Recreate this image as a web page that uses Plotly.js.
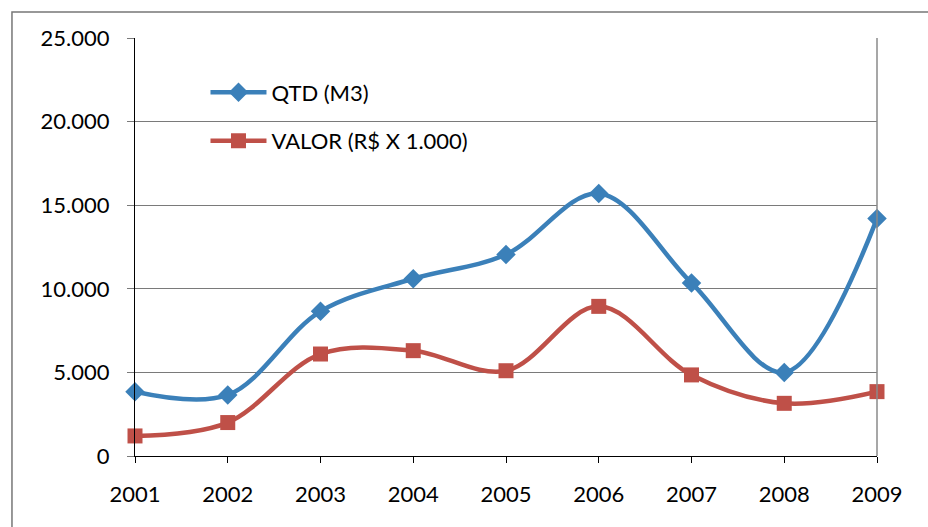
<!DOCTYPE html>
<html><head><meta charset="utf-8">
<script src="https://cdn.plot.ly/plotly-3.0.1.min.js"></script>
<style>html,body{margin:0;padding:0;background:#fff}#chart{width:928px;height:527px}</style>
</head><body><div id="chart"></div>
<script>
const years = [2001, 2002, 2003, 2004, 2005, 2006, 2007, 2008, 2009];
const qtd = [3850, 3650, 8650, 10600, 12050, 15700, 10350, 5000, 14200];
const valor = [1200, 2000, 6100, 6300, 5100, 8950, 4850, 3150, 3850];
const seriesNames = ['QTD (M3)', 'VALOR (R$ X 1.000)'];
const yTicks = [0, 5000, 10000, 15000, 20000, 25000];

const font = {family: 'Lato, "Open Sans", sans-serif', size: 22, color: '#000'};
const traces = [
  {x: years, y: qtd, name: seriesNames[0], type: 'scatter', mode: 'lines+markers',
   line: {color: '#3b80b9', width: 4.5, shape: 'spline', smoothing: 1},
   marker: {symbol: 'diamond', size: 15, color: '#3b80b9'}, cliponaxis: false, legendgroup: 'a'},
  {x: years, y: valor, name: seriesNames[1], type: 'scatter', mode: 'lines+markers',
   line: {color: '#bf5048', width: 4.5, shape: 'spline', smoothing: 1},
   marker: {symbol: 'square', size: 15, color: '#bf5048'}, cliponaxis: false, legendgroup: 'b'}
];
const layout = {
  width: 928, height: 527,
  margin: {l: 135, r: 51, t: 38, b: 71},
  paper_bgcolor: '#fff', plot_bgcolor: '#fff',
  separators: ',.',
  font: font,
  showlegend: true,
  legend: {x: 0.095, y: 0.92, xanchor: 'left', yanchor: 'top', bgcolor: 'rgba(0,0,0,0)',
           itemwidth: 56, traceorder: 'grouped', tracegroupgap: 17,
           font: {family: font.family, size: 22, color: '#000'}},
  xaxis: {range: [2001, 2009], tickvals: years, ticktext: years.map(String),
          showgrid: false, zeroline: false, showline: true, linecolor: '#000', linewidth: 1,
          ticks: 'outside', ticklen: 6, tickcolor: '#000', ticklabelstandoff: 13,
          tickfont: font},
  yaxis: {range: [0, 25000], tickvals: yTicks, tickformat: ',d',
          showgrid: true, gridcolor: '#7a7a7a', gridwidth: 1, zeroline: false,
          showline: true, linecolor: '#000', linewidth: 1,
          ticks: 'outside', ticklen: 7, tickcolor: '#7a7a7a', ticklabelstandoff: 13,
          tickfont: font},
  shapes: [
    {type: 'line', xref: 'paper', yref: 'paper', x0: 1, x1: 1, y0: 0, y1: 1,
     line: {color: '#8a8a8a', width: 1.5}},
    {type: 'rect', xref: 'paper', yref: 'paper', x0: -0.1658, x1: 1.2, y0: -0.3, y1: 1.0622,
     line: {color: '#777', width: 1.5}}
  ]
};
Plotly.newPlot('chart', traces, layout, {displayModeBar: false, staticPlot: true});
</script></body></html>
